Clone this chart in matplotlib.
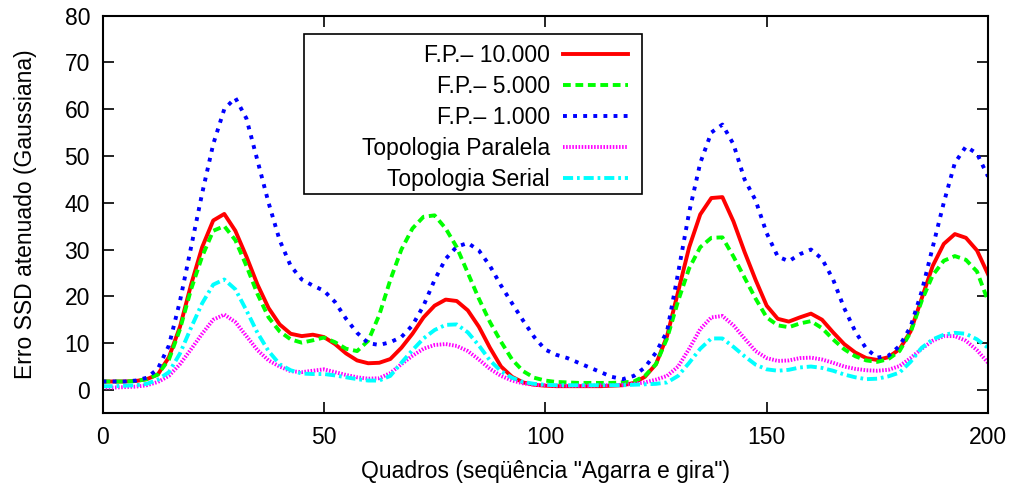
import numpy as np
import matplotlib
matplotlib.use('Agg')
import matplotlib.pyplot as plt
from matplotlib.patches import Rectangle

plt.rcParams['font.family'] = ['Liberation Sans', 'DejaVu Sans']

# frames (every 2.5 frames)
quadros = np.arange(0, 200.1, 2.5)

fp_10000 = [1.8, 1.8, 1.8, 1.9, 2.3, 3.3, 7.0, 13.5, 22.5, 30.5,
            36.2, 37.6, 34.0, 28.5, 22.5, 17.5, 14.0, 12.0, 11.5, 11.8,
            11.3, 9.8, 7.8, 6.3, 5.7, 5.8, 6.6, 9.0, 12.0, 15.5,
            18.0, 19.3, 19.0, 17.0, 13.5, 9.0, 5.0, 2.8, 1.6, 1.1,
            0.9, 0.8, 0.8, 0.8, 0.8, 0.8, 0.9, 1.0, 1.5, 2.8,
            5.5, 11.5, 21.0, 30.5, 37.5, 41.0, 41.2, 36.0, 29.5, 23.5,
            18.0, 15.2, 14.6, 15.5, 16.3, 15.0, 12.3, 9.8, 8.0, 6.8,
            6.4, 7.0, 8.7, 12.5, 19.5, 26.5, 31.2, 33.3, 32.5, 29.8,
            24.7]

fp_5000 = [1.8, 1.8, 1.8, 1.9, 2.3, 3.3, 6.5, 13.0, 21.5, 28.5,
           34.0, 35.0, 32.0, 26.5, 20.5, 15.5, 12.5, 10.8, 10.1, 10.6,
           11.2, 10.2, 8.8, 8.3, 10.5, 16.0, 23.5, 30.0, 34.5, 37.0,
           37.3, 34.5, 30.5, 25.0, 19.5, 14.5, 10.3, 6.5, 4.0, 2.6,
           2.0, 1.7, 1.6, 1.5, 1.5, 1.5, 1.5, 1.6, 1.8, 3.0,
           5.5, 11.0, 19.0, 26.0, 30.5, 32.5, 32.6, 28.5, 24.0, 19.5,
           15.5, 13.8, 13.4, 14.2, 14.7, 13.2, 10.8, 8.7, 7.2, 6.3,
           6.0, 6.6, 8.3, 12.3, 19.0, 24.5, 27.6, 28.6, 27.8, 25.3,
           19.0]

fp_1000 = [1.8, 1.8, 1.8, 2.0, 2.6, 4.5, 9.5, 19.0, 30.5, 42.0,
           52.5, 60.0, 62.4, 58.0, 49.0, 40.0, 32.0, 26.5, 23.6, 22.3,
           21.2, 18.8, 15.2, 12.2, 10.0, 9.6, 10.2, 11.3, 13.8, 18.0,
           23.5, 28.0, 30.6, 31.4, 29.8, 26.5, 22.3, 18.5, 14.8, 11.3,
           8.6, 7.5, 6.8, 5.8, 4.8, 3.8, 2.8, 2.3, 3.0, 4.8,
           8.0, 12.5, 25.0, 38.0, 48.5, 55.0, 56.7, 52.5, 45.0, 40.5,
           33.5, 28.5, 27.5, 29.0, 30.0, 28.0, 23.6, 17.5, 12.5, 8.8,
           6.9, 7.3, 9.4, 13.5, 21.0, 30.5, 40.0, 48.5, 52.0, 50.5,
           45.6]

paralela = [0.5, 0.5, 0.6, 0.7, 1.0, 1.7, 3.0, 5.5, 8.7, 12.0,
            15.0, 16.1, 14.5, 11.5, 8.5, 6.3, 5.0, 4.0, 3.8, 4.1,
            4.4, 3.8, 3.2, 2.7, 2.4, 2.5, 3.6, 5.5, 7.3, 8.8,
            9.6, 9.8, 9.4, 8.3, 6.5, 4.5, 3.0, 2.0, 1.4, 1.1,
            1.0, 0.9, 0.9, 0.9, 0.9, 1.0, 1.0, 1.1, 1.3, 1.6,
            2.2, 3.0, 5.0, 8.8, 13.0, 15.5, 15.8, 13.8, 11.0, 8.3,
            6.8, 6.2, 6.3, 6.8, 6.9, 6.5, 5.8, 5.0, 4.5, 4.2,
            4.1, 4.3, 5.1, 6.8, 8.8, 10.5, 11.5, 11.5, 10.5, 8.5,
            5.8]

serial = [0.8, 0.8, 0.9, 1.0, 1.3, 2.2, 3.8, 7.8, 13.3, 18.5,
          22.5, 23.6, 21.5, 17.0, 12.2, 8.3, 5.5, 4.2, 3.5, 3.4,
          3.4, 3.1, 2.7, 2.3, 2.0, 2.0, 3.0, 5.8, 8.5, 11.0,
          12.8, 13.9, 14.0, 12.3, 9.5, 6.3, 4.0, 2.6, 1.7, 1.3,
          1.1, 1.0, 1.0, 1.0, 1.0, 1.0, 1.0, 1.0, 1.1, 1.2,
          1.3, 1.6, 3.0, 5.8, 8.8, 11.0, 11.0, 9.2, 7.2, 5.4,
          4.4, 4.1, 4.3, 4.8, 5.0, 4.7, 4.1, 3.3, 2.7, 2.3,
          2.4, 2.9, 3.7, 6.0, 9.0, 10.8, 11.8, 12.2, 12.0, 10.8,
          9.0]

fig = plt.figure(figsize=(10.16, 4.91), dpi=100)
ax = fig.add_axes([0.1009, 0.1582, 0.8716, 0.8102])

lw = 2.8
ax.plot(quadros, fp_10000, color='#ff0000', lw=lw, label='F.P.– 10.000')
ax.plot(quadros, fp_5000, color='#00ff00', lw=lw, dashes=(2.0, 1.2), label='F.P.– 5.000')
ax.plot(quadros, fp_1000, color='#0000ff', lw=lw, dashes=(1.0, 1.6), label='F.P.– 1.000')
ax.plot(quadros, paralela, color='#ff00ff', lw=lw, dashes=(0.4, 0.4), label='Topologia Paralela')
ax.plot(quadros, serial, color='#00ffff', lw=lw, dashes=(2.6, 1.0, 0.7, 1.0), label='Topologia Serial')

ax.set_xlim(0, 200)
ax.set_ylim(-5, 80)
ax.set_xticks(np.arange(0, 201, 50))
ax.set_yticks(np.arange(0, 81, 10))
ax.tick_params(direction='in', length=8, width=1.2, top=True, right=True,
               labelsize=16.5, pad=9)
for s in ax.spines.values():
    s.set_linewidth(1.5)

ax.set_xlabel('Quadros (seqüência "Agarra e gira")', fontsize=16.5, labelpad=8)
ax.set_ylabel('Erro SSD atenuado (Gaussiana)', fontsize=16.5, labelpad=20)

# gnuplot-style key: wide box, labels right-aligned next to the samples
ax.add_patch(Rectangle((0.2276, 0.5513), 0.3817, 0.4022, transform=ax.transAxes,
                       facecolor='white', edgecolor='black', lw=1.2, zorder=5))
leg = ax.legend(loc='upper right', bbox_to_anchor=(0.5934, 0.9285), borderaxespad=0,
                markerfirst=False, frameon=False, fontsize=16.5, handlelength=2.84,
                handletextpad=0.57, labelspacing=0.35, borderpad=0)
leg.set_zorder(6)

fig.savefig('out.png', dpi=100)
